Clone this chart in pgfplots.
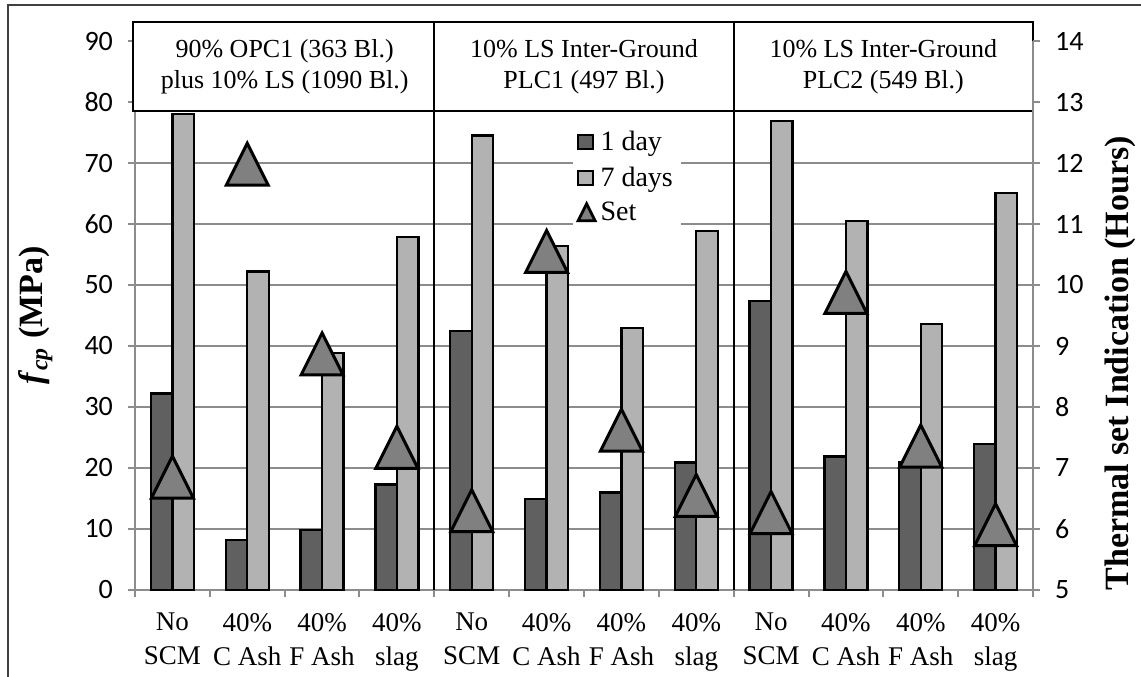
\documentclass[border=0pt]{standalone}
\usepackage{fontspec}
\setmainfont{Liberation Serif}
\newfontfamily\calibri{Carlito}
\usepackage{pgfplots}
\pgfplotsset{compat=1.18}

\definecolor{dark}{HTML}{606060}
\definecolor{light}{HTML}{B2B2B2}
\definecolor{trig}{HTML}{808080}
\definecolor{gridc}{HTML}{8C8C8C}

\pgfdeclareplotmark{xltri}{%
  \pgfpathmoveto{\pgfqpoint{0pt}{\pgfplotmarksize}}%
  \pgfpathlineto{\pgfqpoint{\pgfplotmarksize}{-\pgfplotmarksize}}%
  \pgfpathlineto{\pgfqpoint{-\pgfplotmarksize}{-\pgfplotmarksize}}%
  \pgfpathclose
  \pgfusepathqfillstroke}

\pgfplotstableread{
x oneday sevendays set
0  32.2 78.1 6.85
1   8.2 52.2 11.98
2   9.8 38.9 8.87
3  17.3 57.9 7.34
4  42.4 74.5 6.30
5  14.9 56.4 10.55
6  16.0 43.0 7.62
7  20.9 58.8 6.55
8  47.4 76.9 6.27
9  21.9 60.5 9.88
10 21.0 43.6 7.36
11 23.9 65.1 6.07
}\datatable

\begin{document}
\begin{tikzpicture}[font=\fontsize{12.5}{15}\selectfont]
\useasboundingbox (-67.5pt,-43pt) rectangle (503pt,295pt);
\draw[black!75, line width=1pt] (-63.5pt,-80pt) rectangle (540pt,292.5pt);

\begin{axis}[
  at={(0pt,0pt)}, anchor=south west,
  scale only axis, width=449pt, height=274.5pt,
  clip=false,
  xmin=-0.5, xmax=11.5, ymin=0, ymax=90,
  ybar=0pt, bar width=10.75pt,
  axis lines*=left,
  axis line style={gridc, line width=1pt},
  ytick={0,10,...,90},
  ymajorgrids, grid style={gridc, line width=0.9pt},
  tick align=outside,
  major tick length=3.5pt, minor tick length=3.5pt,
  tick style={gridc, line width=1pt},
  xtick={0,...,11},
  major x tick style={draw=none},
  minor xtick={-0.5,0.5,...,11.5},
  xticklabels={{No\\SCM},{40\%\\C Ash},{40\%\\F Ash},{40\%\\slag},
               {No\\SCM},{40\%\\C Ash},{40\%\\F Ash},{40\%\\slag},
               {No\\SCM},{40\%\\C Ash},{40\%\\F Ash},{40\%\\slag}},
  xticklabel style={align=center, font=\fontsize{13.5}{17}\selectfont, yshift=-4.5pt},
  yticklabel style={font=\calibri\fontsize{14}{16}\selectfont, xshift=-4pt},
  /pgf/number format/assume math mode=true,
  ylabel={\textbf{\textit{f}\textsubscript{\textit{cp}} (MPa)}},
  ylabel style={font=\fontsize{17}{20}\selectfont, at={(axis description cs:-0.111,0.5)}, anchor=center},
]
\addplot[fill=dark, draw=black, line width=1.1pt] table[x=x, y=oneday] {\datatable};
\addplot[fill=light, draw=black, line width=1.1pt] table[x=x, y=sevendays] {\datatable};

\draw[black, line width=1pt, fill=white] (axis cs:-0.53,78.5) rectangle (axis cs:11.5,93.1);
\draw[black, line width=1pt] (axis cs:3.5,0) -- (axis cs:3.5,93.1);
\draw[black, line width=1pt] (axis cs:7.5,0) -- (axis cs:7.5,93.1);
\node[align=center, font=\fontsize{13}{15.5}\selectfont] at (axis cs:1.5,85.8) {90\% OPC1 (363 Bl.)\\plus 10\% LS (1090 Bl.)};
\node[align=center, font=\fontsize{13}{15.5}\selectfont] at (axis cs:5.5,85.8) {10\% LS Inter-Ground\\PLC1 (497 Bl.)};
\node[align=center, font=\fontsize{13}{15.5}\selectfont] at (axis cs:9.5,85.8) {10\% LS Inter-Ground\\PLC2 (549 Bl.)};
\end{axis}

\begin{axis}[
  at={(0pt,0pt)}, anchor=south west,
  scale only axis, width=449pt, height=274.5pt,
  xmin=-0.5, xmax=11.5, ymin=5, ymax=14,
  clip=false,
  axis y line*=right, axis x line=none,
  axis line style={gridc, line width=1pt},
  ytick={5,...,14},
  tick align=outside,
  major tick length=3.5pt,
  tick style={gridc, line width=1pt},
  yticklabel style={font=\calibri\fontsize{14}{16}\selectfont, xshift=4pt},
  /pgf/number format/assume math mode=true,
  ylabel={\textbf{Thermal set Indication (Hours)}},
  ylabel style={font=\fontsize{17}{20}\selectfont, at={(axis description cs:1.097,0.413)}, anchor=center},
  legend style={at={(rel axis cs:0.487,0.851)}, anchor=north west, draw=none, fill=white,
                font=\fontsize{14}{15}\selectfont, row sep=2.5pt, inner sep=2pt},
  legend cell align=left,
]
\addlegendimage{legend image code/.code={\draw[fill=dark, draw=black, line width=1pt] (0pt,-3.5pt) rectangle (7.5pt,3.5pt);}}
\addlegendentry{1 day}
\addlegendimage{legend image code/.code={\draw[fill=light, draw=black, line width=1pt] (0pt,-3.5pt) rectangle (7.5pt,3.5pt);}}
\addlegendentry{7 days}
\addplot[only marks, mark=xltri, mark size=10.5pt,
  mark options={fill=trig, draw=black, line width=1.5pt},
  legend image code/.code={\draw[fill=trig, draw=black, line width=1.4pt] (0pt,-4pt) -- (8.5pt,-4pt) -- (4.25pt,4.5pt) -- cycle;}]
  table[x=x, y=set] {\datatable};
\addlegendentry{Set}
\end{axis}
\end{tikzpicture}
\end{document}
